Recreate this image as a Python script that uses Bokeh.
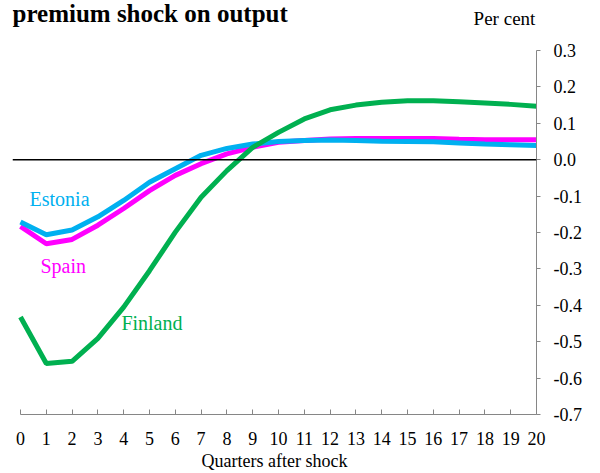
from bokeh.plotting import figure
from bokeh.layouts import column
from bokeh.models import Range1d, FixedTicker, Span, Label, PrintfTickFormatter
from bokeh.embed import file_html
from bokeh.resources import INLINE

quarters = list(range(21))
estonia = [-0.171, -0.206, -0.193, -0.157, -0.112, -0.062, -0.025, 0.012, 0.031, 0.043,
           0.050, 0.053, 0.054, 0.053, 0.051, 0.050, 0.049, 0.046, 0.043, 0.041, 0.039]
spain = [-0.183, -0.231, -0.219, -0.180, -0.134, -0.085, -0.043, -0.011, 0.016, 0.034,
         0.048, 0.053, 0.057, 0.058, 0.058, 0.058, 0.058, 0.056, 0.055, 0.055, 0.055]
finland = [-0.432, -0.560, -0.554, -0.491, -0.405, -0.305, -0.199, -0.103, -0.030, 0.034,
           0.075, 0.112, 0.137, 0.150, 0.158, 0.162, 0.162, 0.159, 0.156, 0.152, 0.147]
y_ticks = [0.3, 0.2, 0.1, 0.0, -0.1, -0.2, -0.3, -0.4, -0.5, -0.6, -0.7]

title_text = "premium shock on output"
unit_text = "Per cent"
x_title = "Quarters after shock"

FONT = "Liberation Serif"
W = 600

# header strip with the title and the unit note
h = figure(width=W, height=40, output_backend="svg", toolbar_location=None,
           x_range=Range1d(0, W), y_range=Range1d(0, 40),
           x_axis_type=None, y_axis_type=None,
           min_border_left=0, min_border_right=0, min_border_top=0, min_border_bottom=0)
h.outline_line_color = None
h.grid.visible = False
h.add_layout(Label(x=0, y=26.6, text=title_text, text_font=FONT,
                   text_font_size="25px", text_font_style="bold", text_color="black",
                   text_align="left", text_baseline="middle"))
h.add_layout(Label(x=528, y=22.3, text=unit_text, text_font=FONT,
                   text_font_size="19px", text_color="black",
                   text_align="left", text_baseline="middle"))

p = figure(width=W, height=433, output_backend="svg", toolbar_location=None,
           x_range=Range1d(-0.31, 20), y_range=Range1d(-0.7, 0.3),
           x_axis_location="below", y_axis_location="right",
           min_border_left=12, min_border_right=64, min_border_top=10, min_border_bottom=59)
p.outline_line_color = None
p.grid.visible = False

xa = p.xaxis[0]
xa.ticker = FixedTicker(ticks=quarters)
xa.bounds = (0, 20)
xa.major_tick_in = 5
xa.major_tick_out = 0
xa.minor_tick_line_color = None
xa.axis_line_color = "#868686"
xa.major_tick_line_color = "#868686"
xa.major_label_text_font = FONT
xa.major_label_text_font_size = "18px"
xa.major_label_text_color = "#000000"
xa.major_label_standoff = 17
xa.axis_label = x_title
xa.axis_label_text_font = FONT
xa.axis_label_text_font_size = "18px"
xa.axis_label_text_font_style = "normal"
xa.axis_label_text_color = "#000000"
xa.axis_label_standoff = 3

ya = p.yaxis[0]
ya.ticker = FixedTicker(ticks=y_ticks)
ya.formatter = PrintfTickFormatter(format="%.1f")
ya.major_tick_in = 0
ya.major_tick_out = 4
ya.minor_tick_line_color = None
ya.axis_line_color = "#868686"
ya.major_tick_line_color = "#868686"
ya.major_label_text_font = FONT
ya.major_label_text_font_size = "18px"
ya.major_label_text_color = "#000000"
ya.major_label_standoff = 13

p.add_layout(Span(location=0, dimension="width", line_color="black", line_width=1.6))

p.line(quarters, spain, line_color="#FF00FF", line_width=5)
p.line(quarters, estonia, line_color="#00B0F0", line_width=5)
p.line(quarters, finland, line_color="#00B050", line_width=5)

for txt, x, y, c in [("Estonia", 0.35, -0.108, "#00B0F0"),
                     ("Spain", 0.775, -0.293, "#FF00FF"),
                     ("Finland", 3.91, -0.449, "#00B050")]:
    p.add_layout(Label(x=x, y=y, text=txt, text_color=c, text_font=FONT,
                       text_font_size="20px", text_align="left", text_baseline="middle"))

layout = column(h, p, spacing=0)
open("out.html", "w").write(file_html(layout, INLINE))
